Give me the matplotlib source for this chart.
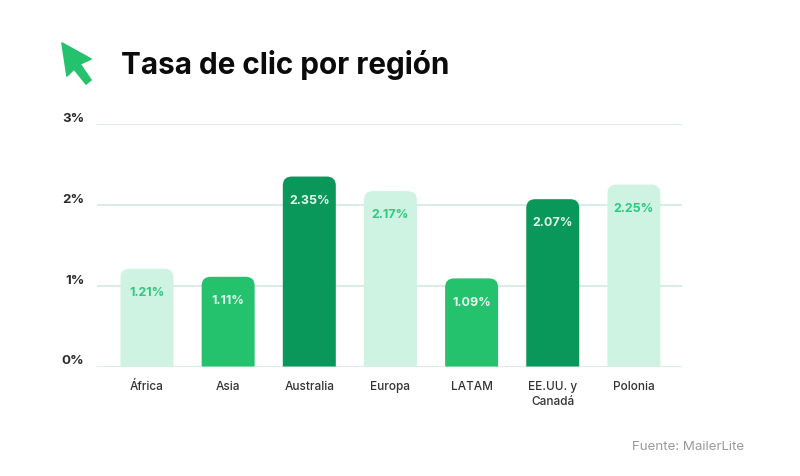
import matplotlib.pyplot as plt
import matplotlib.transforms as mtrans
import numpy as np
from matplotlib.patches import PathPatch, Polygon
from matplotlib.path import Path

plt.rcParams['font.family'] = ['Inter', 'DejaVu Sans']

regions = ['África', 'Asia', 'Australia', 'Europa', 'LATAM', 'EE.UU. y\nCanadá', 'Polonia']
rates = [1.21, 1.11, 2.35, 2.17, 1.09, 2.07, 2.25]
shades = ['light', 'mid', 'dark', 'light', 'mid', 'dark', 'light']
y_ticks = [0, 1, 2, 3]
y_labels = ['0%', '1%', '2%', '3%']

bar_colors = {'light': '#CFF3E3', 'mid': '#25C26E', 'dark': '#09975A'}
label_colors = {'light': '#2CC97F', 'mid': '#E4F8EE', 'dark': '#E4F8EE'}

W, H = 800, 476
BAR_W = 53 / 81.15
fig = plt.figure(figsize=(W / 100, H / 100), dpi=100, facecolor='white')

# axes box: x 97-682 px, y 124-366.5 px from the top
ax = fig.add_axes([97 / W, 1 - 366.5 / H, 585 / W, 242.5 / H])
ax.set_xlim(-50 / 81.15, 535 / 81.15)
ax.set_ylim(0, 3)
for s in ax.spines.values():
    s.set_visible(False)
ax.set_yticks(y_ticks)
ax.set_yticklabels(y_labels, fontsize=9.6, fontweight='bold', color='#2A2A2A')
ax.set_xticks(range(len(regions)))
ax.set_xticklabels(regions, fontsize=8.5, fontweight='medium', color='#333333', linespacing=1.35)
ax.tick_params(axis='y', length=0, pad=9)
ax.tick_params(axis='x', length=0, pad=10.5)
ax.grid(axis='y', color='#D5EBE4', linewidth=1.3)
ax.set_axisbelow(True)

# nudge the y labels above their gridlines
for lab in ax.get_yticklabels():
    lab.set_transform(lab.get_transform() + mtrans.ScaledTranslation(0, 4.8 / 72, fig.dpi_scale_trans))


def top_rounded_bar(x, height, width, rx, ry):
    # bar outline with square feet and rounded top corners
    l, r = x - width / 2, x + width / 2
    verts = [(l, 0), (l, height - ry), (l, height), (l + rx, height),
             (r - rx, height), (r, height), (r, height - ry), (r, 0), (l, 0)]
    codes = [Path.MOVETO, Path.LINETO, Path.CURVE3, Path.CURVE3,
             Path.LINETO, Path.CURVE3, Path.CURVE3, Path.LINETO, Path.CLOSEPOLY]
    return Path(verts, codes)


rx = 9 / 81.15
ry = 9 / 80.83
for i, (rate, shade) in enumerate(zip(rates, shades)):
    ax.add_patch(PathPatch(top_rounded_bar(i, rate, BAR_W, rx, ry),
                           facecolor=bar_colors[shade], edgecolor='none', zorder=2))
    ax.annotate('%.2f%%' % rate, (i, rate), xytext=(0, -17.5), textcoords='offset points',
                ha='center', va='center', fontsize=9, fontweight='bold',
                color=label_colors[shade], zorder=3)

fig.text(121 / W, 1 - 64.5 / H, 'Tasa de clic por región', fontsize=21.4, fontweight='bold',
         color='#0B0B0B', ha='left', va='center')
fig.text(744 / W, 1 - 446.5 / H, 'Fuente: MailerLite', fontsize=9.6, color='#9A9A9A',
         ha='right', va='center')

# arrow cursor next to the title
cursor = np.array([(62, 43), (91, 59), (80, 64), (91, 80), (86, 84), (74, 69), (67, 76)])
cursor = cursor / [W, H]
cursor[:, 1] = 1 - cursor[:, 1]
fig.add_artist(Polygon(cursor, closed=True, facecolor='#25C26E', edgecolor='#25C26E',
                       linewidth=1.2, joinstyle='round', transform=fig.transFigure))

fig.savefig('out.png', dpi=100)
